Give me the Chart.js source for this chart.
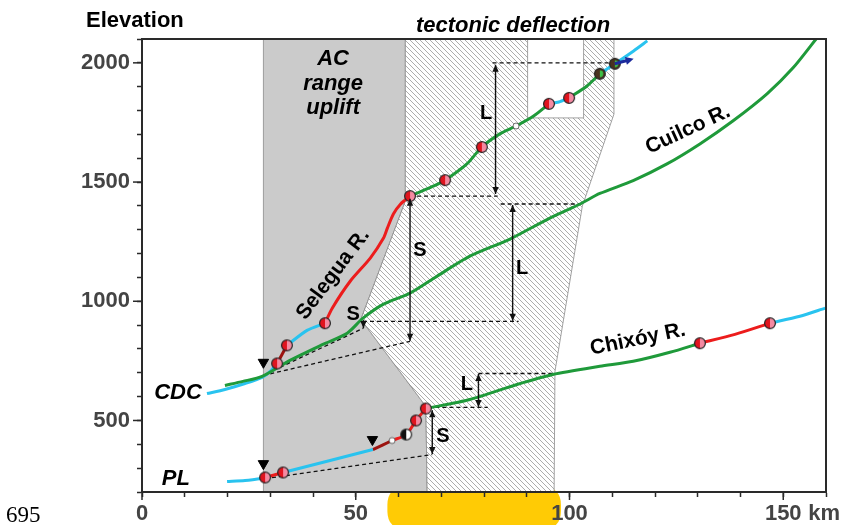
<!DOCTYPE html>
<html>
<head>
<meta charset="utf-8">
<script src="https://cdn.jsdelivr.net/npm/chart.js@4"></script>
<style>
  html, body { margin: 0; padding: 0; background: #fff; }
  canvas { display: block; }
</style>
</head>
<body>
<canvas id="profile" width="846" height="525"></canvas>
<script>
// river long profiles: [distance km, elevation m]
const cdcCyan = [[15.2, 613], [19.4, 630], [24.1, 655], [28.1, 681], [30.0, 706], [31.6, 739]];
const upperDarkRed = [[31.6, 739], [33.9, 815]];
const upperCyan = [[33.9, 815], [38.6, 878], [42.8, 908]];
const seleguaRed = [[42.8, 908], [44.5, 971], [48.7, 1084], [53.4, 1181], [56.5, 1265], [57.4, 1307], [58.8, 1366], [60.5, 1408], [62.7, 1441]];
const upperGreen = [[62.7, 1441], [68.1, 1483], [70.9, 1508], [76.0, 1576], [79.5, 1647], [83.7, 1702], [87.5, 1735], [91.6, 1777], [95.2, 1828]];
const boxCyan = [[95.2, 1828], [97.5, 1836], [99.9, 1853]];
const upperGreen2 = [[99.9, 1853], [104.1, 1903], [107.1, 1954]];
const topCyan = [[107.1, 1954], [110.6, 1996], [115.0, 2050], [118.2, 2092]];
const captureArrow = [[110.6, 1996], [115.0, 2017]];

const cuilcoGreen = [[19.4, 647], [23.6, 664], [28.1, 685], [34.6, 752], [42.3, 819], [48.0, 866], [51.7, 929], [56.4, 987], [62.7, 1034], [69.0, 1105], [76.7, 1189], [86.1, 1261], [95.4, 1349], [102.5, 1408], [107.1, 1452], [114.9, 1506], [122.8, 1576], [130.5, 1660], [138.2, 1756], [146.2, 1870], [152.3, 1979], [157.9, 2105]];

const plCyan = [[19.9, 244], [24.1, 248], [28.3, 258], [28.8, 261]];
const lowerRed = [[28.8, 261], [33.0, 282]];
const lowerCyan = [[33.0, 282], [44.0, 332], [54.0, 378]];
const lowerDarkRed = [[54.0, 378], [58.5, 416]];
const lowerRed2 = [[58.5, 416], [61.8, 441], [64.1, 500], [66.4, 550]];
const chixoyGreen = [[66.4, 550], [76.7, 588], [87.7, 651], [96.1, 693], [107.1, 727], [114.9, 748], [123.5, 786], [130.5, 824]];
const chixoyRed = [[130.5, 824], [138.7, 861], [146.9, 908]];
const chixoyCyan = [[146.9, 908], [153.9, 937], [159.8, 971]];

// knickpoints and markers
const redDots = [[31.6, 739], [33.9, 815], [42.8, 908], [62.7, 1441], [70.9, 1508], [79.5, 1647], [95.2, 1828], [99.9, 1853], [28.8, 261], [33.0, 282], [64.1, 500], [66.4, 550], [130.5, 824], [146.9, 908]];
const whiteDots = [[87.5, 1735], [58.5, 416]];
const greenDots = [[107.1, 1954], [110.6, 1996]];
const halfDots = [[61.8, 441]];
const triangles = [[28.4, 744], [28.4, 319], [53.9, 420]];

// dashed reference lines
const dashedLines = [
  [[82.0, 2000], [110.4, 2000]],
  [[62.7, 1441], [83.2, 1441]],
  [[83.9, 1408], [102.5, 1408]],
  [[51.7, 916], [88.1, 916]],
  [[28.4, 689], [62.7, 832]],
  [[32.3, 723], [51.8, 887]],
  [[28.8, 256], [67.9, 357]],
  [[78.7, 697], [96.0, 697]],
  [[67.0, 555], [80.9, 555]]
];
// vertical arrows [x, yFrom, yTo, double]
const arrows = [
  [82.7, 1450, 1992, true],
  [86.7, 918, 1404, true],
  [62.7, 834, 1430, true],
  [67.9, 359, 543, true],
  [78.7, 557, 695, true],
  [51.8, 921, 888, false]
];

// shaded zones
const upliftZone = [[28.4, 2100], [61.6, 2100], [61.6, 1420], [51.2, 924], [66.4, 559], [66.7, 200], [28.4, 200]];
const deflectionZone = [[61.6, 2100], [90.2, 2100], [90.2, 1769], [103.3, 1769], [103.3, 2100], [110.4, 2100], [110.4, 1785], [103.0, 1399], [96.6, 706], [96.4, 200], [66.7, 200], [66.4, 559], [51.2, 924], [61.6, 1420]];
const highlightKm = [57.4, 98.0];

// labels [text, km, elev]
const zoneText = [['AC', 44.7, 1992], ['range', 44.7, 1887], ['uplift', 44.7, 1786]];
const riverText = [['Selegua R.', 44.7, 1113, -53], ['Cuilco R.', 127.7, 1720, -25], ['Chixóy R.', 116.0, 840, -11.5]];
const deltaText = [['L', 80.5, 1788], ['L', 88.9, 1136], ['S', 65.0, 1212], ['S', 49.4, 946], ['S', 70.4, 433], ['L', 76.0, 651]];
const endText = [['CDC', 14.0, 588], ['PL', 11.2, 231]];

const SANS = "'Liberation Sans', Arial, sans-serif";
const CYAN = '#29c3ef', GREEN = '#1f9a3a', RED = '#ec1c1c', DARKRED = '#9c1410';

function dotImage(kind) {
  const c = document.createElement('canvas');
  c.width = 14; c.height = 14;
  const g = c.getContext('2d');
  const r = kind === 'white' ? 3 : 5.4;
  g.beginPath(); g.arc(7, 7, r, 0, Math.PI * 2);
  if (kind === 'white') {
    g.fillStyle = '#fff'; g.fill();
    g.lineWidth = 0.8; g.strokeStyle = '#444'; g.stroke();
    return c;
  }
  if (kind === 'red') {
    g.fillStyle = '#f48aa2'; g.fill();
    g.beginPath(); g.arc(7, 7, r, Math.PI / 2, Math.PI * 1.5); g.fillStyle = '#e0141e'; g.fill();
  } else if (kind === 'green') {
    g.fillStyle = '#4a3220'; g.fill();
    g.beginPath(); g.arc(7, 7, 3.4, -Math.PI / 2, Math.PI / 2); g.fillStyle = '#3cc046'; g.fill();
  } else {
    g.fillStyle = '#fff'; g.fill();
    g.beginPath(); g.arc(7, 7, r, Math.PI / 2, Math.PI * 1.5); g.fillStyle = '#111'; g.fill();
  }
  g.beginPath(); g.arc(7, 7, r, 0, Math.PI * 2);
  g.lineWidth = 1.2; g.strokeStyle = '#222'; g.stroke();
  return c;
}

function seg(data, color) {
  return { data: data, showLine: true, borderColor: color, borderWidth: 3, pointRadius: 0, tension: 0.25, order: 1 };
}
function dots(data, img) {
  return { data: data, showLine: false, pointStyle: img, pointRadius: 6, order: 0 };
}

const datasets = [
  dots(redDots, dotImage('red')),
  dots(greenDots, dotImage('green')),
  dots(halfDots, dotImage('half')),
  dots(whiteDots, dotImage('white')),
  { data: triangles, showLine: false, pointStyle: 'triangle', rotation: 180, pointRadius: 6, backgroundColor: '#000', borderColor: '#000', borderWidth: 1, order: 0 },
  seg(cuilcoGreen, GREEN),
  seg(cdcCyan, CYAN), seg(upperDarkRed, DARKRED), seg(upperCyan, CYAN), seg(seleguaRed, RED),
  seg(upperGreen, GREEN), seg(boxCyan, CYAN), seg(upperGreen2, GREEN), seg(topCyan, CYAN),
  seg(plCyan, CYAN), seg(lowerRed, RED), seg(lowerCyan, CYAN), seg(lowerDarkRed, DARKRED), seg(lowerRed2, RED),
  seg(chixoyGreen, GREEN), seg(chixoyRed, RED), seg(chixoyCyan, CYAN)
];
dashedLines.forEach(d => datasets.push({ data: d, showLine: true, borderColor: '#111', borderWidth: 1.3, borderDash: [4, 3], pointRadius: 0, order: 2 }));

function arrowHead(ctx, x, y, dx, dy, len, half, color) {
  const n = Math.hypot(dx, dy); dx /= n; dy /= n;
  ctx.beginPath();
  ctx.moveTo(x, y);
  ctx.lineTo(x - dx * len - dy * half, y - dy * len + dx * half);
  ctx.lineTo(x - dx * len + dy * half, y - dy * len - dx * half);
  ctx.closePath();
  ctx.fillStyle = color; ctx.fill();
}

function polygon(ctx, chart, pts) {
  const xs = chart.scales.x, ys = chart.scales.y;
  ctx.beginPath();
  pts.forEach((p, i) => {
    const px = xs.getPixelForValue(p[0]), py = ys.getPixelForValue(p[1]);
    if (i === 0) ctx.moveTo(px, py); else ctx.lineTo(px, py);
  });
  ctx.closePath();
}

const zonesPlugin = {
  id: 'zones',
  beforeDraw(chart) {
    const ctx = chart.ctx, xs = chart.scales.x;
    const x1 = xs.getPixelForValue(highlightKm[0]), x2 = xs.getPixelForValue(highlightKm[1]);
    const y1 = chart.chartArea.bottom - 5, y2 = chart.height + 4, r = 18;
    ctx.save();
    ctx.beginPath();
    ctx.moveTo(x1 + r, y1); ctx.lineTo(x2 - r, y1); ctx.quadraticCurveTo(x2, y1, x2, y1 + r);
    ctx.lineTo(x2, y2 - r); ctx.quadraticCurveTo(x2, y2, x2 - r, y2);
    ctx.lineTo(x1 + r, y2); ctx.quadraticCurveTo(x1, y2, x1, y2 - r);
    ctx.lineTo(x1, y1 + r); ctx.quadraticCurveTo(x1, y1, x1 + r, y1);
    ctx.fillStyle = '#ffcb05'; ctx.fill();
    ctx.restore();
  },
  beforeDatasetsDraw(chart) {
    const ctx = chart.ctx, a = chart.chartArea;
    ctx.save();
    ctx.beginPath(); ctx.rect(a.left, a.top, a.right - a.left, a.bottom - a.top); ctx.clip();
    polygon(ctx, chart, upliftZone);
    ctx.fillStyle = '#cbcbcb'; ctx.fill();
    ctx.lineWidth = 0.8; ctx.strokeStyle = '#8a8a8a'; ctx.stroke();
    const tile = document.createElement('canvas');
    tile.width = 5; tile.height = 5;
    const g = tile.getContext('2d');
    g.fillStyle = '#fff'; g.fillRect(0, 0, 5, 5);
    g.strokeStyle = '#a4a4a4'; g.lineWidth = 0.9;
    g.beginPath(); g.moveTo(-1, -1); g.lineTo(6, 6); g.moveTo(-1, 4); g.lineTo(1, 6); g.moveTo(4, -1); g.lineTo(6, 1); g.stroke();
    polygon(ctx, chart, deflectionZone);
    ctx.fillStyle = ctx.createPattern(tile, 'repeat'); ctx.fill();
    ctx.lineWidth = 0.8; ctx.strokeStyle = '#8a8a8a'; ctx.stroke();
    ctx.restore();
  },
  afterDatasetsDraw(chart) {
    const ctx = chart.ctx, xs = chart.scales.x, ys = chart.scales.y, a = chart.chartArea;
    ctx.save();
    // arrows
    ctx.strokeStyle = '#111'; ctx.lineWidth = 1.4;
    arrows.forEach(([x, yA, yB, dbl]) => {
      const px = xs.getPixelForValue(x), pa = ys.getPixelForValue(yA), pb = ys.getPixelForValue(yB);
      ctx.beginPath(); ctx.moveTo(px, pa); ctx.lineTo(px, pb); ctx.stroke();
      arrowHead(ctx, px, pb, 0, pb - pa, 7, 3.2, '#111');
      if (dbl) arrowHead(ctx, px, pa, 0, pa - pb, 7, 3.2, '#111');
    });
    // capture arrow
    const c0 = captureArrow[0], c1 = captureArrow[1];
    const ax = xs.getPixelForValue(c0[0]), ay = ys.getPixelForValue(c0[1]);
    const bx = xs.getPixelForValue(c1[0]), by = ys.getPixelForValue(c1[1]);
    ctx.strokeStyle = '#1c2a9c'; ctx.lineWidth = 3;
    ctx.beginPath(); ctx.moveTo(ax, ay); ctx.lineTo(bx - (bx - ax) * 0.2, by - (by - ay) * 0.2); ctx.stroke();
    arrowHead(ctx, bx, by, bx - ax, by - ay, 8, 4, '#1c2a9c');
    // labels
    ctx.fillStyle = '#000';
    ctx.textAlign = 'center'; ctx.textBaseline = 'alphabetic';
    ctx.font = 'italic bold 22px ' + SANS;
    zoneText.forEach(t => ctx.fillText(t[0], xs.getPixelForValue(t[1]), ys.getPixelForValue(t[2])));
    ctx.textAlign = 'right';
    endText.forEach(t => ctx.fillText(t[0], xs.getPixelForValue(t[1]), ys.getPixelForValue(t[2])));
    ctx.textAlign = 'center'; ctx.textBaseline = 'middle';
    ctx.font = 'bold 20px ' + SANS;
    deltaText.forEach(t => ctx.fillText(t[0], xs.getPixelForValue(t[1]), ys.getPixelForValue(t[2])));
    ctx.font = 'bold 21px ' + SANS;
    riverText.forEach(t => {
      ctx.save();
      ctx.translate(xs.getPixelForValue(t[1]), ys.getPixelForValue(t[2]));
      ctx.rotate(t[3] * Math.PI / 180);
      ctx.fillText(t[0], 0, 0);
      ctx.restore();
    });
    // frame
    ctx.strokeStyle = '#2a2a2a'; ctx.lineWidth = 2;
    ctx.strokeRect(a.left, a.top, a.right - a.left, a.bottom - a.top);
    ctx.restore();
  },
  afterDraw(chart) {
    const ctx = chart.ctx, xs = chart.scales.x, ys = chart.scales.y, a = chart.chartArea;
    ctx.save();
    // longer major ticks
    ctx.strokeStyle = '#2a2a2a'; ctx.lineWidth = 1.5;
    [500, 1000, 1500, 2000].forEach(v => {
      const py = ys.getPixelForValue(v);
      ctx.beginPath(); ctx.moveTo(a.left - 9, py); ctx.lineTo(a.left, py); ctx.stroke();
    });
    [0, 50, 100, 150].forEach(v => {
      const px = xs.getPixelForValue(v);
      ctx.beginPath(); ctx.moveTo(px, a.bottom); ctx.lineTo(px, a.bottom + 8); ctx.stroke();
    });
    ctx.fillStyle = '#000';
    ctx.font = 'bold 22px ' + SANS;
    ctx.textAlign = 'left'; ctx.textBaseline = 'alphabetic';
    ctx.fillText('Elevation', a.left - 56, a.top - 12);
    ctx.font = 'italic bold 22px ' + SANS;
    ctx.textAlign = 'center';
    ctx.fillText('tectonic deflection', xs.getPixelForValue(86.8), a.top - 7);
    ctx.fillStyle = '#444';
    ctx.font = 'bold 22px ' + SANS;
    ctx.textAlign = 'left'; ctx.textBaseline = 'middle';
    ctx.fillText('km', xs.getPixelForValue(150) + 25, a.bottom + 22);
    ctx.fillStyle = '#000';
    ctx.font = '23px "Liberation Serif", "Times New Roman", serif';
    ctx.textBaseline = 'alphabetic';
    ctx.fillText('695', 6, 522);
    ctx.restore();
  }
};

const tickFont = { family: SANS, size: 22, weight: 'bold' };

const chart = new Chart(document.getElementById('profile').getContext('2d'), {
  type: 'scatter',
  data: { datasets: datasets },
  options: {
    responsive: false,
    animation: false,
    events: [],
    layout: { padding: { top: 39, right: 20, left: 0, bottom: 0 } },
    plugins: { legend: { display: false }, tooltip: { enabled: false } },
    scales: {
      x: {
        type: 'linear', min: 0, max: 160,
        afterFit: s => { s.height = 33; },
        ticks: { stepSize: 10, maxTicksLimit: 100, autoSkip: false, maxRotation: 0, padding: 4, color: '#444', font: tickFont,
          callback: v => (v % 50 === 0 && v < 160 ? String(v) : '') },
        grid: { drawOnChartArea: false, tickLength: 5, tickColor: '#2a2a2a', tickWidth: 1.5 },
        border: { color: '#2a2a2a', width: 2 }
      },
      y: {
        type: 'linear', min: 200, max: 2100,
        afterFit: s => { s.width = 142; },
        ticks: { stepSize: 100, maxTicksLimit: 100, autoSkip: false, padding: 7, color: '#444', font: tickFont,
          callback: v => (v % 500 === 0 ? String(v) : '') },
        grid: { drawOnChartArea: false, tickLength: 5, tickColor: '#2a2a2a', tickWidth: 1.5 },
        border: { color: '#2a2a2a', width: 2 }
      }
    }
  },
  plugins: [zonesPlugin]
});
</script>
</body>
</html>
